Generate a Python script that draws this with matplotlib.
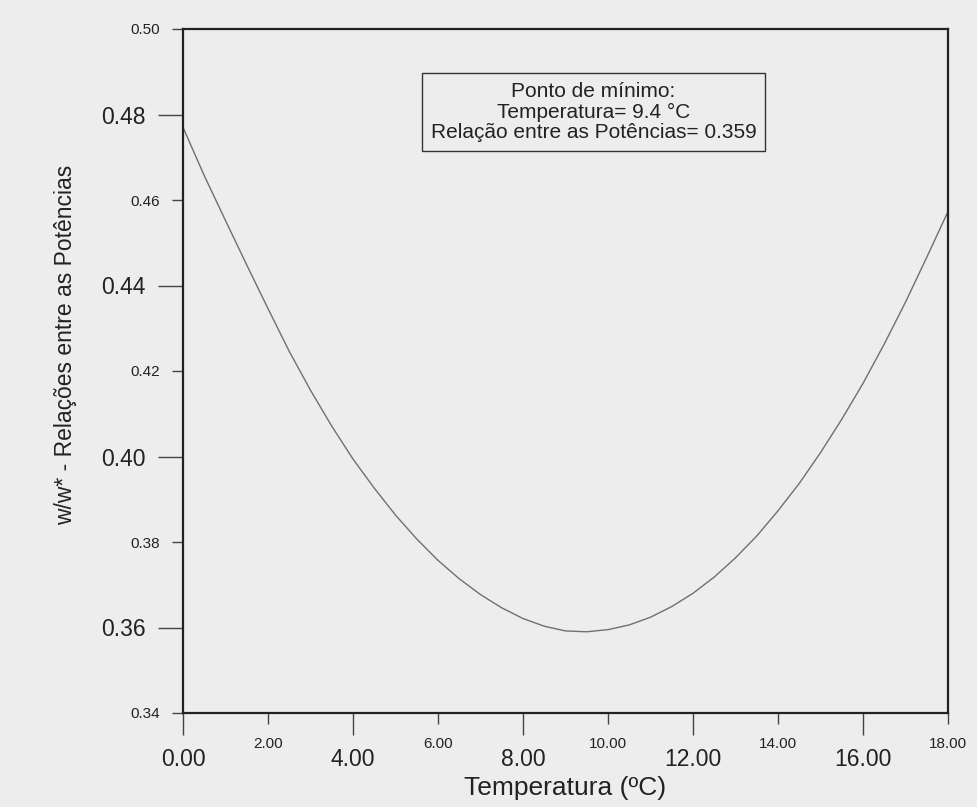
import matplotlib
matplotlib.use("Agg")
import matplotlib.pyplot as plt

plt.rcParams['font.family'] = ['Liberation Sans', 'DejaVu Sans']

# curve (temperature in C, power ratio w/w*)
temperatura = [0.0, 0.5, 1.0, 1.5, 2.0, 2.5, 3.0, 3.5, 4.0, 4.5, 5.0, 5.5,
               6.0, 6.5, 7.0, 7.5, 8.0, 8.5, 9.0, 9.5, 10.0, 10.5, 11.0, 11.5,
               12.0, 12.5, 13.0, 13.5, 14.0, 14.5, 15.0, 15.5, 16.0, 16.5,
               17.0, 17.5, 18.0]
relacao = [0.4770, 0.4657, 0.4552, 0.4448, 0.4346, 0.4246, 0.4155, 0.4071,
           0.3994, 0.3926, 0.3863, 0.3807, 0.3757, 0.3714, 0.3677, 0.3646,
           0.3621, 0.3603, 0.3592, 0.3590, 0.3595, 0.3606, 0.3624, 0.3649,
           0.3680, 0.3718, 0.3763, 0.3814, 0.3873, 0.3937, 0.4009, 0.4087,
           0.4171, 0.4263, 0.4361, 0.4466, 0.4573]

x_big = [0, 4, 8, 12, 16]
x_big_lbl = ["0.00", "4.00", "8.00", "12.00", "16.00"]
x_small = [2, 6, 10, 14, 18]
x_small_lbl = ["2.00", "6.00", "10.00", "14.00", "18.00"]
y_big = [0.36, 0.40, 0.44, 0.48]
y_big_lbl = ["0.36", "0.40", "0.44", "0.48"]
y_small = [0.34, 0.38, 0.42, 0.46, 0.50]
y_small_lbl = ["0.34", "0.38", "0.42", "0.46", "0.50"]

caixa = "Ponto de mínimo:\nTemperatura= 9.4 °C\nRelação entre as Potências= 0.359"

bg = '#ededed'
fig = plt.figure(figsize=(9.77, 8.07), dpi=100, facecolor=bg)
ax = fig.add_axes([183 / 977, 1 - 713 / 807, 765 / 977, 684 / 807])
ax.set_facecolor(bg)

ax.plot(temperatura, relacao, color='#707070', lw=1.0)

ax.set_xlim(0, 18)
ax.set_ylim(0.34, 0.50)

ax.set_xticks(x_big, x_big_lbl, fontsize=16.5)
ax.set_xticks(x_small, x_small_lbl, minor=True, fontsize=11)
ax.set_yticks(y_big, y_big_lbl, fontsize=16.5)
ax.set_yticks(y_small, y_small_lbl, minor=True, fontsize=11)

ax.tick_params(axis='x', which='major', length=16, width=1.0, pad=9,
               color='#444444', labelcolor='#222222')
ax.tick_params(axis='x', which='minor', length=8, width=1.0, pad=9,
               color='#444444', labelcolor='#222222')
ax.tick_params(axis='y', which='major', length=18, width=1.0, pad=9,
               color='#444444', labelcolor='#222222')
ax.tick_params(axis='y', which='minor', length=8, width=1.0, pad=8.5,
               color='#444444', labelcolor='#222222')

for s in ax.spines.values():
    s.set_linewidth(1.6)
    s.set_color('#222222')

ax.set_xlabel("Temperatura (ºC)", fontsize=19, color='#222222')
ax.xaxis.set_label_coords(0.5, -0.1096)
ax.xaxis.label.set_va('center')

ax.set_ylabel("w/w* - Relações entre as Potências", fontsize=16.5, color='#222222')
ax.yaxis.set_label_coords(-0.153, 0.538)
ax.yaxis.label.set_va('center')

ax.text(0.5366, 0.8787, caixa, transform=ax.transAxes, ha='center', va='center',
        fontsize=15, color='#222222', linespacing=1.12,
        bbox=dict(boxstyle='square,pad=0.4', facecolor=bg, edgecolor='#333333', lw=1.0))

fig.savefig("out.png", dpi=100, facecolor=bg)
